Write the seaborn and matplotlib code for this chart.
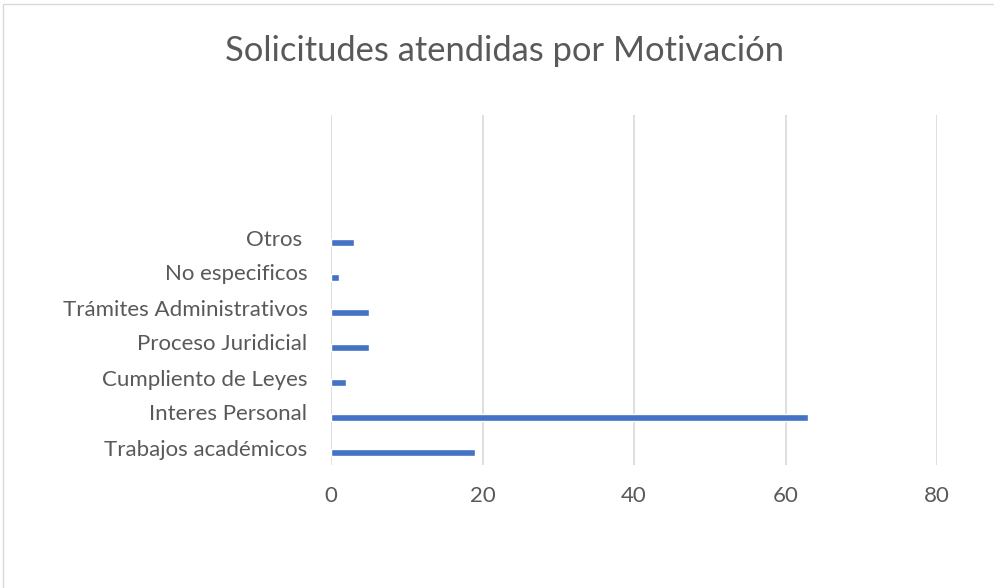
import matplotlib
matplotlib.use("Agg")
import matplotlib.pyplot as plt
import seaborn as sns
from matplotlib.patches import Rectangle

categorias = ["Otros ", "No especificos", "Trámites Administrativos",
              "Proceso Juridicial", "Cumpliento de Leyes", "Interes Personal",
              "Trabajos académicos"]
valores = [3, 1, 5, 5, 2, 63, 19]
ticks_x = [0, 20, 40, 60, 80]

sns.set_style("white")
plt.rcParams['font.family'] = ['Lato', 'DejaVu Sans']

fig = plt.figure(figsize=(9.95, 5.88), dpi=100)
ax = fig.add_axes([331/995, 1 - 465/588, (937 - 331)/995, (465 - 115)/588])

sns.barplot(x=valores, y=categorias, orient="h", color="#4472C4",
            width=0.2, saturation=1, ax=ax)

# Excel deja la barra un poco por debajo del centro de la categoría
for p in ax.patches:
    p.set_y(p.get_y() + 0.157)

ax.set_xlim(0, 80)
ax.set_ylim(6.5, -3.5)
ax.set_xticks(ticks_x)
ax.xaxis.grid(True, color="#d9d9d9", linewidth=1.2)
ax.set_axisbelow(True)
for s in ax.spines.values():
    s.set_visible(False)
ax.tick_params(axis="both", length=0, colors="#595959", labelsize=16)
ax.tick_params(axis="x", pad=15)
ax.tick_params(axis="y", pad=17)
ax.set_xlabel("")
ax.set_ylabel("")

fig.text(0.507, 0.913, "Solicitudes atendidas por Motivación", ha="center",
         va="center", fontsize=24.8, color="#595959")

fig.patches.append(Rectangle((3/995, -0.01), 1.0, 1 - 4/588 + 0.01,
                             transform=fig.transFigure, fill=False,
                             edgecolor="#d9d9d9", linewidth=1))

fig.savefig("out.png", dpi=100)
